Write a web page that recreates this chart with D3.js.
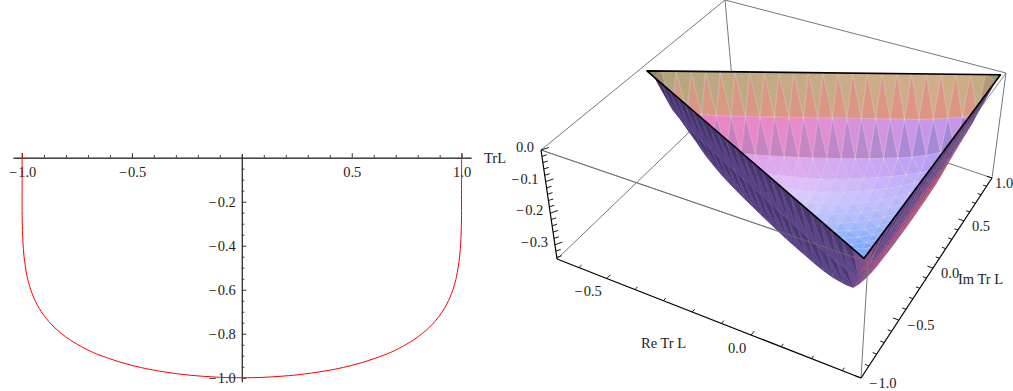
<!DOCTYPE html>
<html>
<head>
<meta charset="utf-8">
<script src="https://cdn.jsdelivr.net/npm/d3@7"></script>
<style>
  html, body { margin: 0; background: #fff; }
  svg { display: block; }
  text { font-family: "Liberation Serif", serif; font-size: 14.5px; fill: #222; }
</style>
</head>
<body>
<svg id="chart" width="1013" height="391"></svg>
<script>
// left plot, values
var curveX = [-1, -0.9998, -0.9995, -0.9991, -0.9963, -0.9907, -0.9765, -0.965, -0.9546, -0.94, -0.9216, -0.905, -0.8777, -0.85, -0.822, -0.78, -0.713, -0.66, -0.55, -0.462, -0.38, -0.25, -0.1, 0,
  0.1, 0.25, 0.38, 0.462, 0.55, 0.66, 0.713, 0.78, 0.822, 0.85, 0.8777, 0.905, 0.9216, 0.94, 0.9546, 0.965, 0.9765, 0.9907, 0.9963, 0.9991, 0.9995, 0.9998, 1];
var curveY = [0.02, 0, -0.10, -0.283, -0.374, -0.45, -0.541, -0.585, -0.616, -0.65, -0.685, -0.7105, -0.745, -0.774, -0.798, -0.829, -0.8676, -0.892, -0.93, -0.953, -0.969, -0.987, -0.998, -1,
  -0.998, -0.987, -0.969, -0.953, -0.93, -0.892, -0.8676, -0.829, -0.798, -0.774, -0.745, -0.7105, -0.685, -0.65, -0.616, -0.585, -0.541, -0.45, -0.374, -0.283, -0.10, 0, 0.02];
var xMajor = [-1, -0.5, 0.5, 1];
var xMinor = [-0.9, -0.8, -0.7, -0.6, -0.5, -0.4, -0.3, -0.2, -0.1, 0, 0.1, 0.2, 0.3, 0.4, 0.6, 0.7, 0.8, 0.9];
var yMajor = [-0.2, -0.4, -0.6, -0.8, -1];
var yMinor = [-0.05, -0.1, -0.15, -0.25, -0.3, -0.35, -0.45, -0.5, -0.55, -0.65, -0.7, -0.75, -0.85, -0.9, -0.95];

// right plot
var reTicks = [-0.6, -0.5, -0.4, -0.3, -0.2, -0.1, 0, 0.1, 0.2, 0.3];
var reLabels = [-0.5, 0];
var imTicks = [-1, -0.9, -0.8, -0.7, -0.6, -0.5, -0.4, -0.3, -0.2, -0.1, 0, 0.1, 0.2, 0.3, 0.4, 0.5, 0.6, 0.7, 0.8, 0.9, 1];
var imLabels = [-1, -0.5, 0, 0.5, 1];
var zTicks = [0, -0.02, -0.04, -0.06, -0.08, -0.1, -0.12, -0.14, -0.16, -0.18, -0.2, -0.22, -0.24, -0.26, -0.28, -0.3, -0.32, -0.34];
var zLabels = [0, -0.1, -0.2, -0.3];
// rim of the bowl (left, right, near)
var rimRe = [-0.655, 0.348, 0.345];
var rimIm = [-0.02, 0.965, -0.985];
// bowl depth on a 24 step triangular mesh, by sorted mesh indices (smallest, middle)
var bowlDepth = [
  [-0.110, -0.120, -0.125, -0.128, -0.130, -0.130, -0.130, -0.130, -0.130, -0.130, -0.130],
  [-0.200, -0.215, -0.225, -0.232, -0.236, -0.238, -0.240, -0.241, -0.242, -0.242],
  [-0.250, -0.260, -0.268, -0.274, -0.279, -0.283, -0.286, -0.288],
  [-0.270, -0.282, -0.291, -0.298, -0.303, -0.306, -0.307],
  [-0.294, -0.305, -0.313, -0.318, -0.320],
  [-0.316, -0.323, -0.328, -0.329],
  [-0.331, -0.334],
  [-0.335]
];
var insideStops = [72, 85, 95, 105, 115, 125, 140, 160, 180, 200, 220, 240, 258];
var insideColors = ["#7f7c5e", "#a89a74", "#e0ac8c", "#f2a090", "#e48aa0", "#d878b0", "#d68ccc", "#dda0ea", "#e2bcf8", "#d8ccfc", "#b4c4ff", "#88b4fc", "#5a9cf8"];
var wallStops = [640, 850, 875, 1000];
var wallColors = ["#4a3674", "#54407e", "#94487c", "#c8566c"];

var svg = d3.select("#chart");

//////// left plot
var x = d3.scaleLinear().domain([-1.041, 1.0425]).range([13, 471]);
var y = d3.scaleLinear().domain([0.018, -1.018]).range([153.7, 381.7]);
var fmt = function(d) { return (d < 0 ? "\u2212\u200a" : "") + d3.format(".1f")(Math.abs(d)); };

function styleAxis(g) {
  g.selectAll("path,line").attr("stroke", "#333").attr("stroke-width", 1);
  g.selectAll("text").attr("fill", "#222");
  g.attr("font-family", null).attr("font-size", null);
}

svg.append("g").attr("transform", "translate(0,157.7)")
  .call(d3.axisBottom(x).tickValues(xMinor).tickSizeInner(-2.5).tickSizeOuter(0).tickFormat(""))
  .call(styleAxis);
svg.append("g").attr("transform", "translate(0,157.7)")
  .call(d3.axisBottom(x).tickValues(xMajor).tickSizeInner(-4.5).tickSizeOuter(0).tickPadding(9).tickFormat(fmt))
  .call(styleAxis);
svg.append("g").attr("transform", "translate(241.8,0)")
  .call(d3.axisLeft(y).tickValues(yMinor).tickSizeInner(-2.5).tickSizeOuter(0).tickFormat(""))
  .call(styleAxis);
svg.append("g").attr("transform", "translate(241.8,0)")
  .call(d3.axisLeft(y).tickValues(yMajor).tickSizeInner(-4.5).tickSizeOuter(0).tickPadding(6).tickFormat(fmt))
  .call(styleAxis);

svg.append("text").attr("x", 484).attr("y", 163).text("TrL");

var pts = d3.zip(curveX, curveY);
svg.append("path").attr("d", d3.line().x(function(d) { return x(d[0]); }).y(function(d) { return y(d[1]); }).curve(d3.curveCatmullRom)(pts))
  .attr("fill", "none").attr("stroke", "#f00").attr("stroke-width", 1);

//////// right plot
var reS = d3.scaleLinear().domain([-0.68, 0.36]).range([0, 1]);
var imS = d3.scaleLinear().domain([-1, 1]).range([0, 1]);
var zS = d3.scaleLinear().domain([0, -0.345]).range([0, 1]);

// unit square to quad
function quad(p) {
  var dx1 = p[1][0] - p[2][0], dx2 = p[3][0] - p[2][0], sx = p[0][0] - p[1][0] + p[2][0] - p[3][0];
  var dy1 = p[1][1] - p[2][1], dy2 = p[3][1] - p[2][1], sy = p[0][1] - p[1][1] + p[2][1] - p[3][1];
  var det = dx1 * dy2 - dx2 * dy1;
  var g = (sx * dy2 - dx2 * sy) / det, h = (dx1 * sy - sx * dy1) / det;
  var a = p[1][0] - p[0][0] + g * p[1][0], b = p[3][0] - p[0][0] + h * p[3][0];
  var d = p[1][1] - p[0][1] + g * p[1][1], e = p[3][1] - p[0][1] + h * p[3][1];
  return function(u, v) {
    var w = g * u + h * v + 1;
    return [(a * u + b * v + p[0][0]) / w, (d * u + e * v + p[0][1]) / w];
  };
}
var topFace = quad([[541, 150], [868, 262], [1006, 73], [725, 0]]);
var botFace = quad([[557, 259], [861, 378], [992, 178], [733, 90]]);

function project(re, im, z) {
  var u = reS(re), v = imS(im), t = zS(z);
  var a = topFace(u, v), b = botFace(u, v);
  return [a[0] + (b[0] - a[0]) * t, a[1] + (b[1] - a[1]) * t];
}
function seg(g, p, q, color, w) {
  g.append("line").attr("x1", p[0]).attr("y1", p[1]).attr("x2", q[0]).attr("y2", q[1])
    .attr("stroke", color).attr("stroke-width", w);
}

var reLo = reS.domain()[0], reHi = reS.domain()[1], zLo = zS.domain()[1];

// box edges behind the surface
var back = svg.append("g");
seg(back, project(reLo, -1, 0), project(reLo, 1, 0), "#777", 1);
seg(back, project(reLo, 1, 0), project(reHi, 1, 0), "#777", 1);
seg(back, project(reLo, 1, 0), project(reLo, 1, zLo), "#777", 1);
seg(back, project(reLo, -1, zLo), project(reLo, 1, zLo), "#777", 1);
seg(back, project(reLo, 1, zLo), project(reHi, 1, zLo), "#777", 1);
seg(back, project(reHi, 1, 0), project(reHi, 1, zLo), "#777", 1);
seg(back, project(reLo, -1, 0), project(reHi, -1, 0), "#777", 1);

// surface mesh
var N = 24;
function depthAt(a, b, c) {
  var s = [a, b, c].sort(d3.ascending);
  if (s[0] == 0) return 0;
  return bowlDepth[s[0] - 1][s[1] - s[0]];
}
function meshPoint(a, b, c) {
  var re = (a * rimRe[0] + b * rimRe[1] + c * rimRe[2]) / N;
  var im = (a * rimIm[0] + b * rimIm[1] + c * rimIm[2]) / N;
  return project(re, im, depthAt(a, b, c));
}
var facets = [];
for (var c = 0; c < N; c++) {
  for (var b = 0; b < N - c; b++) {
    var a = N - c - b;
    facets.push({ up: true, k: Math.min(a - 1, b, c), i: b, pts: [meshPoint(a, b, c), meshPoint(a - 1, b + 1, c), meshPoint(a - 1, b, c + 1)] });
    if (a > 1) facets.push({ up: false, k: Math.min(a - 2, b, c), i: b, pts: [meshPoint(a - 1, b + 1, c), meshPoint(a - 2, b + 1, c + 1), meshPoint(a - 1, b, c + 1)] });
  }
}
facets.forEach(function(f) {
  f.cx = d3.mean(f.pts, function(p) { return p[0]; });
  f.cy = d3.mean(f.pts, function(p) { return p[1]; });
  f.area = d3.polygonArea(f.pts);
});

var rimPts = [0, 1, 2].map(function(i) { return project(rimRe[i], rimIm[i], 0); });
var rimArea = d3.polygonArea(rimPts);
svg.append("clipPath").attr("id", "rimClip").append("polygon").attr("points", rimPts.join(" "));

var wallColor = d3.scaleLinear().domain(wallStops).range(wallColors).clamp(true);
var insideColor = d3.scaleLinear().domain(insideStops).range(insideColors).clamp(true);
// the right side of the inside turns blue
var blueX = d3.scaleLinear().domain([800, 960]).range([0, 0.6]).clamp(true);
var blueY = d3.scaleLinear().domain([105, 135]).range([0, 1]).clamp(true);
var toPts = function(f) { return f.pts.join(" "); };

svg.append("g").selectAll("polygon").data(facets.slice().sort(function(p, q) { return q.k - p.k; }))
  .enter().append("polygon")
  .attr("points", toPts)
  .attr("fill", function(f) {
    var col = d3.color(wallColor(f.cx));
    if (f.cx > 875 && f.k == 0) col = d3.color("#5a4088");
    if (f.k > 1 && f.cx < 875) col = col.brighter(0.3);
    return (f.up ? col.darker(0.3) : col.brighter(0.3)).formatHex();
  })
  .attr("stroke", "rgba(255,255,255,0.1)").attr("stroke-width", 0.4);

svg.append("g").attr("clip-path", "url(#rimClip)").selectAll("polygon")
  .data(facets.filter(function(f) { return f.area * rimArea > 0; }))
  .enter().append("polygon")
  .attr("points", toPts)
  .attr("fill", function(f) {
    var mixed = d3.interpolateRgb(insideColor(f.cy), "#8c9cff")(blueX(f.cx) * blueY(f.cy));
    var col = d3.color(mixed);
    var amount = f.k < 2 ? 0.22 : 0.03;
    return (f.up ? col.brighter(amount) : col.darker(amount)).formatHex();
  })
  .attr("stroke", "rgba(255,255,255,0.35)").attr("stroke-width", 0.6);

// rim
svg.append("polygon").attr("points", rimPts.join(" "))
  .attr("fill", "none").attr("stroke", "#000").attr("stroke-width", 1.6).attr("stroke-linejoin", "round");

// box edges in front of the surface
var front = svg.append("g");
seg(front, project(reHi, -1, 0), project(reHi, 1, 0), "rgba(110,110,110,0.8)", 1);
seg(front, project(reLo, -1, 0), project(reHi, -1, 0), "rgba(110,110,110,0.8)", 1);
seg(front, project(reHi, -1, 0), project(reHi, -1, zLo), "#777", 1);

// axes with ticks
var axes = svg.append("g");
seg(axes, project(reLo, -1, 0), project(reLo, -1, zLo), "#000", 1.2);
seg(axes, project(reLo, -1, zLo), project(reHi, -1, zLo), "#000", 1.2);
seg(axes, project(reHi, -1, zLo), project(reHi, 1, zLo), "#000", 1.2);

reTicks.forEach(function(t) {
  var big = reLabels.indexOf(t) >= 0;
  seg(axes, project(t, -1, zLo), project(t, big ? -0.965 : -0.975, zLo), "#000", 0.9);
});
imTicks.forEach(function(t) {
  var big = imLabels.indexOf(t) >= 0;
  seg(axes, project(reHi, t, zLo), project(reHi - (big ? 0.02 : 0.013), t, zLo), "#000", 0.9);
});
zTicks.forEach(function(t) {
  var big = zLabels.indexOf(t) >= 0;
  seg(axes, project(reLo, -1, t), project(reLo + (big ? 0.012 : 0.008), big ? -0.96 : -0.975, t), "#000", 0.9);
});

function label(p, dx, dy, anchor, txt) {
  svg.append("text").attr("x", p[0] + dx).attr("y", p[1] + dy).attr("text-anchor", anchor).text(txt);
}
reLabels.forEach(function(t) { label(project(t, -1, zLo), -5, 18, "end", fmt(t)); });
imLabels.forEach(function(t) { label(project(reHi, t, zLo), t == 1 ? 3 : 8, 10, "start", fmt(t)); });
zLabels.forEach(function(t) { label(project(reLo, -1, t), -7, 2, "end", fmt(t)); });
svg.append("text").attr("x", 641).attr("y", 348).text("Re Tr L");
svg.append("text").attr("x", 958).attr("y", 284).text("Im Tr L");
</script>
</body>
</html>
